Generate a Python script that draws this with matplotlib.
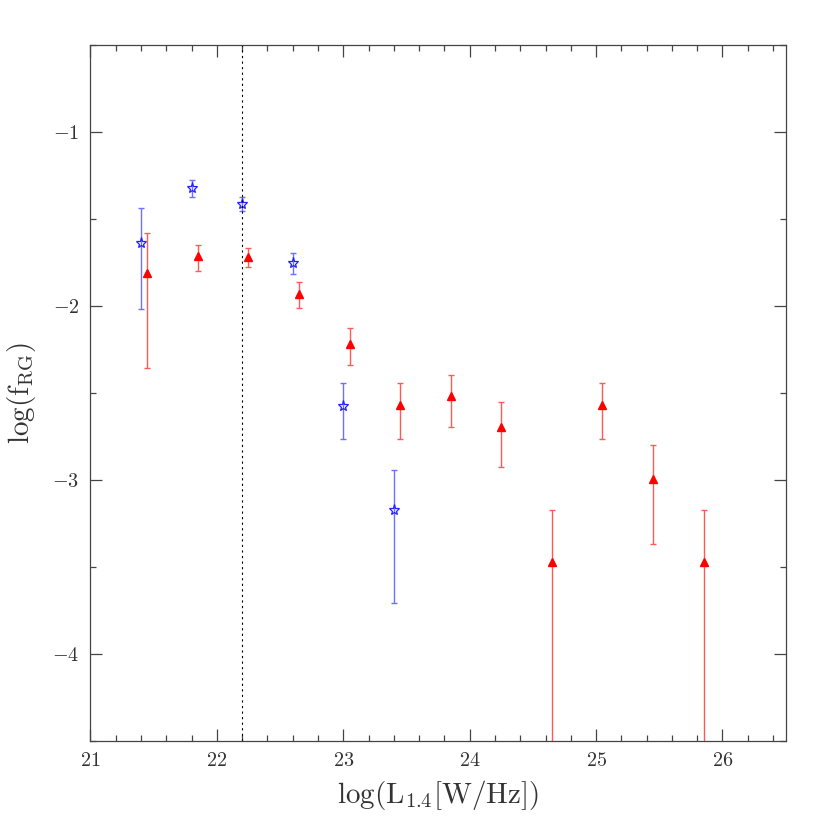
import matplotlib
matplotlib.use("Agg")
import matplotlib.pyplot as plt
from matplotlib.ticker import MultipleLocator
import numpy as np

plt.rcParams['mathtext.fontset'] = 'cm'
plt.rcParams['font.family'] = 'serif'
plt.rcParams['font.serif'] = ['cmr10', 'DejaVu Serif']
plt.rcParams['axes.formatter.use_mathtext'] = True

# Blue stars
blue_x = [21.4, 21.8, 22.2, 22.6, 23.0, 23.4]
blue_y = [-1.64, -1.325, -1.415, -1.753, -2.576, -3.174]
blue_hi = [-1.44, -1.277, -1.375, -1.698, -2.442, -2.943]
blue_lo = [-2.02, -1.375, -1.455, -1.816, -2.763, -3.708]

# Red triangles
red_x = [21.45, 21.85, 22.25, 22.65, 23.05, 23.45, 23.85, 24.25, 24.65, 25.05, 25.45, 25.85]
red_y = [-1.81, -1.715, -1.72, -1.93, -2.22, -2.57, -2.518, -2.694, -3.471, -2.57, -2.995, -3.469]
red_hi = [-1.58, -1.65, -1.667, -1.865, -2.13, -2.442, -2.396, -2.551, -3.174, -2.442, -2.80, -3.174]
red_lo = [-2.36, -1.80, -1.78, -2.01, -2.34, -2.763, -2.698, -2.928, -6.0, -2.763, -3.371, -6.0]

vline_x = 22.2

fig = plt.figure(figsize=(8.3, 8.3), dpi=100)
ax = fig.add_axes([0.1090, 0.1072, 0.8376, 0.8390])

by = np.array(blue_y)
ax.errorbar(blue_x, blue_y,
            yerr=[by - np.array(blue_lo), np.array(blue_hi) - by],
            fmt='none', ecolor='#7070ff', elinewidth=1.0, capsize=2.5, capthick=1.0)
ax.plot(blue_x, blue_y, linestyle='none', marker='*', ms=8, mfc='none',
        mec='#2020ff', mew=0.9)

ry = np.array(red_y)
ax.errorbar(red_x, red_y,
            yerr=[ry - np.array(red_lo), np.array(red_hi) - ry],
            fmt='none', ecolor='#ff5a5a', elinewidth=1.0, capsize=2.5, capthick=1.0)
ax.plot(red_x, red_y, linestyle='none', marker='^', ms=5.8, color='red', mec='red')

ax.axvline(vline_x, color='black', linestyle=(0, (2, 3)), linewidth=0.8)

ax.set_xlim(21, 26.5)
ax.set_ylim(-4.5, -0.5)
ax.xaxis.set_major_locator(MultipleLocator(1))
ax.xaxis.set_minor_locator(MultipleLocator(0.2))
ax.yaxis.set_major_locator(MultipleLocator(1))
ax.yaxis.set_minor_locator(MultipleLocator(0.5))

ax.tick_params(axis='both', which='both', direction='in', top=True, right=True,
               colors='#444444', labelcolor='#333333', labelsize=14.5, width=0.9)
ax.tick_params(axis='both', which='major', length=8.6, pad=8)
ax.tick_params(axis='both', which='minor', length=4.6)
for s in ax.spines.values():
    s.set_color('#444444')
    s.set_linewidth(0.9)

ax.set_xlabel(r'$\log(\mathrm{L}_{1.4}[\mathrm{W/Hz}])$', fontsize=21, color='#333333', labelpad=6)
ax.set_ylabel(r'$\log(\mathrm{f}_{\mathrm{RG}})$', fontsize=21, color='#333333', labelpad=10)

fig.savefig('out.png', dpi=100)
